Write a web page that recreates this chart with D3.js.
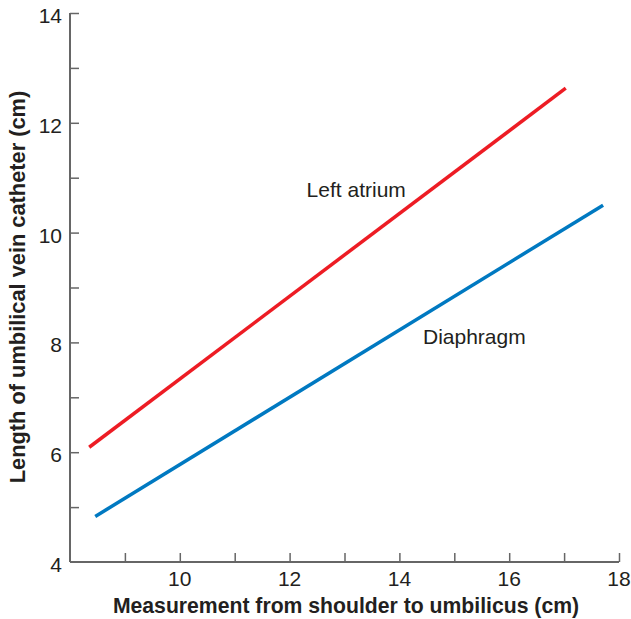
<!DOCTYPE html>
<html><head><meta charset="utf-8">
<script src="https://cdn.jsdelivr.net/npm/d3@7"></script>
<style>body{margin:0;background:#fff;}svg{display:block;font-family:"Liberation Sans",Arial,Helvetica,sans-serif;}</style>
</head><body>
<svg id="c" width="631" height="619"></svg>
<script>
const seriesNames = ["Left atrium", "Diaphragm"];
const seriesColors = ["#ed1c24", "#0079c1"];
const leftAtriumX = [8.35, 17.03];
const leftAtriumY = [6.09, 12.63];
const diaphragmX = [8.46, 17.71];
const diaphragmY = [4.83, 10.50];
const xTicks = [9,10,11,12,13,14,15,16,17,18];
const xTickLabels = [10,12,14,16,18];
const yTicks = [5,6,7,8,9,10,11,12,13,14];
const yTickLabels = [4,6,8,10,12,14];
const xTitle = "Measurement from shoulder to umbilicus (cm)";
const yTitle = "Length of umbilical vein catheter (cm)";

const svg = d3.select("#c");
const x = d3.scaleLinear().domain([8,18]).range([70,619]);
const y = d3.scaleLinear().domain([4,14]).range([562,13]);
const axisColor = "#666";

// y axis
const ya = svg.append("g").attr("transform","translate(70,0)")
  .call(d3.axisRight(y).tickValues(yTicks).tickSize(9).tickFormat(""));
ya.select(".domain").attr("d", `M0,${y(14)}V${y(4)}`);
// x axis
const xa = svg.append("g").attr("transform","translate(0,562)")
  .call(d3.axisTop(x).tickValues(xTicks).tickSize(9).tickFormat(""));
xa.select(".domain").attr("d", `M${x(8)},0H${x(18)}`);
svg.selectAll(".domain").attr("stroke",axisColor).attr("stroke-width",2);
svg.selectAll(".tick line").attr("stroke",axisColor).attr("stroke-width",1.5);

// tick labels
svg.append("g").selectAll("text").data(yTickLabels).join("text")
  .attr("x",62).attr("y",d=>y(d)+10).attr("text-anchor","end")
  .attr("font-size",21).attr("fill","#231f20").text(d=>d);
svg.append("g").selectAll("text").data(xTickLabels).join("text")
  .attr("x",d=>x(d)).attr("y",586).attr("text-anchor","middle")
  .attr("font-size",21).attr("fill","#231f20").text(d=>d);

// titles
svg.append("text").attr("x",346).attr("y",613).attr("text-anchor","middle")
  .attr("font-size",21.2).attr("font-weight","bold").attr("fill","#231f20").text(xTitle);
svg.append("text").attr("transform","translate(25,287) rotate(-90)").attr("text-anchor","middle")
  .attr("font-size",21.8).attr("font-weight","bold").attr("fill","#231f20").text(yTitle);

// lines
const line = d3.line().x(d=>x(d[0])).y(d=>y(d[1]));
const data = [d3.zip(leftAtriumX,leftAtriumY), d3.zip(diaphragmX,diaphragmY)];
svg.append("g").selectAll("path").data(data).join("path")
  .attr("d",line).attr("fill","none").attr("stroke",(d,i)=>seriesColors[i]).attr("stroke-width",3.5);

// labels
const labelPos = [[12.31,10.65],[14.43,7.97]];
svg.append("g").selectAll("text").data(seriesNames).join("text")
  .attr("x",(d,i)=>x(labelPos[i][0])).attr("y",(d,i)=>y(labelPos[i][1]))
  .attr("font-size",21).attr("fill","#231f20").text(d=>d);
</script>
</body></html>
